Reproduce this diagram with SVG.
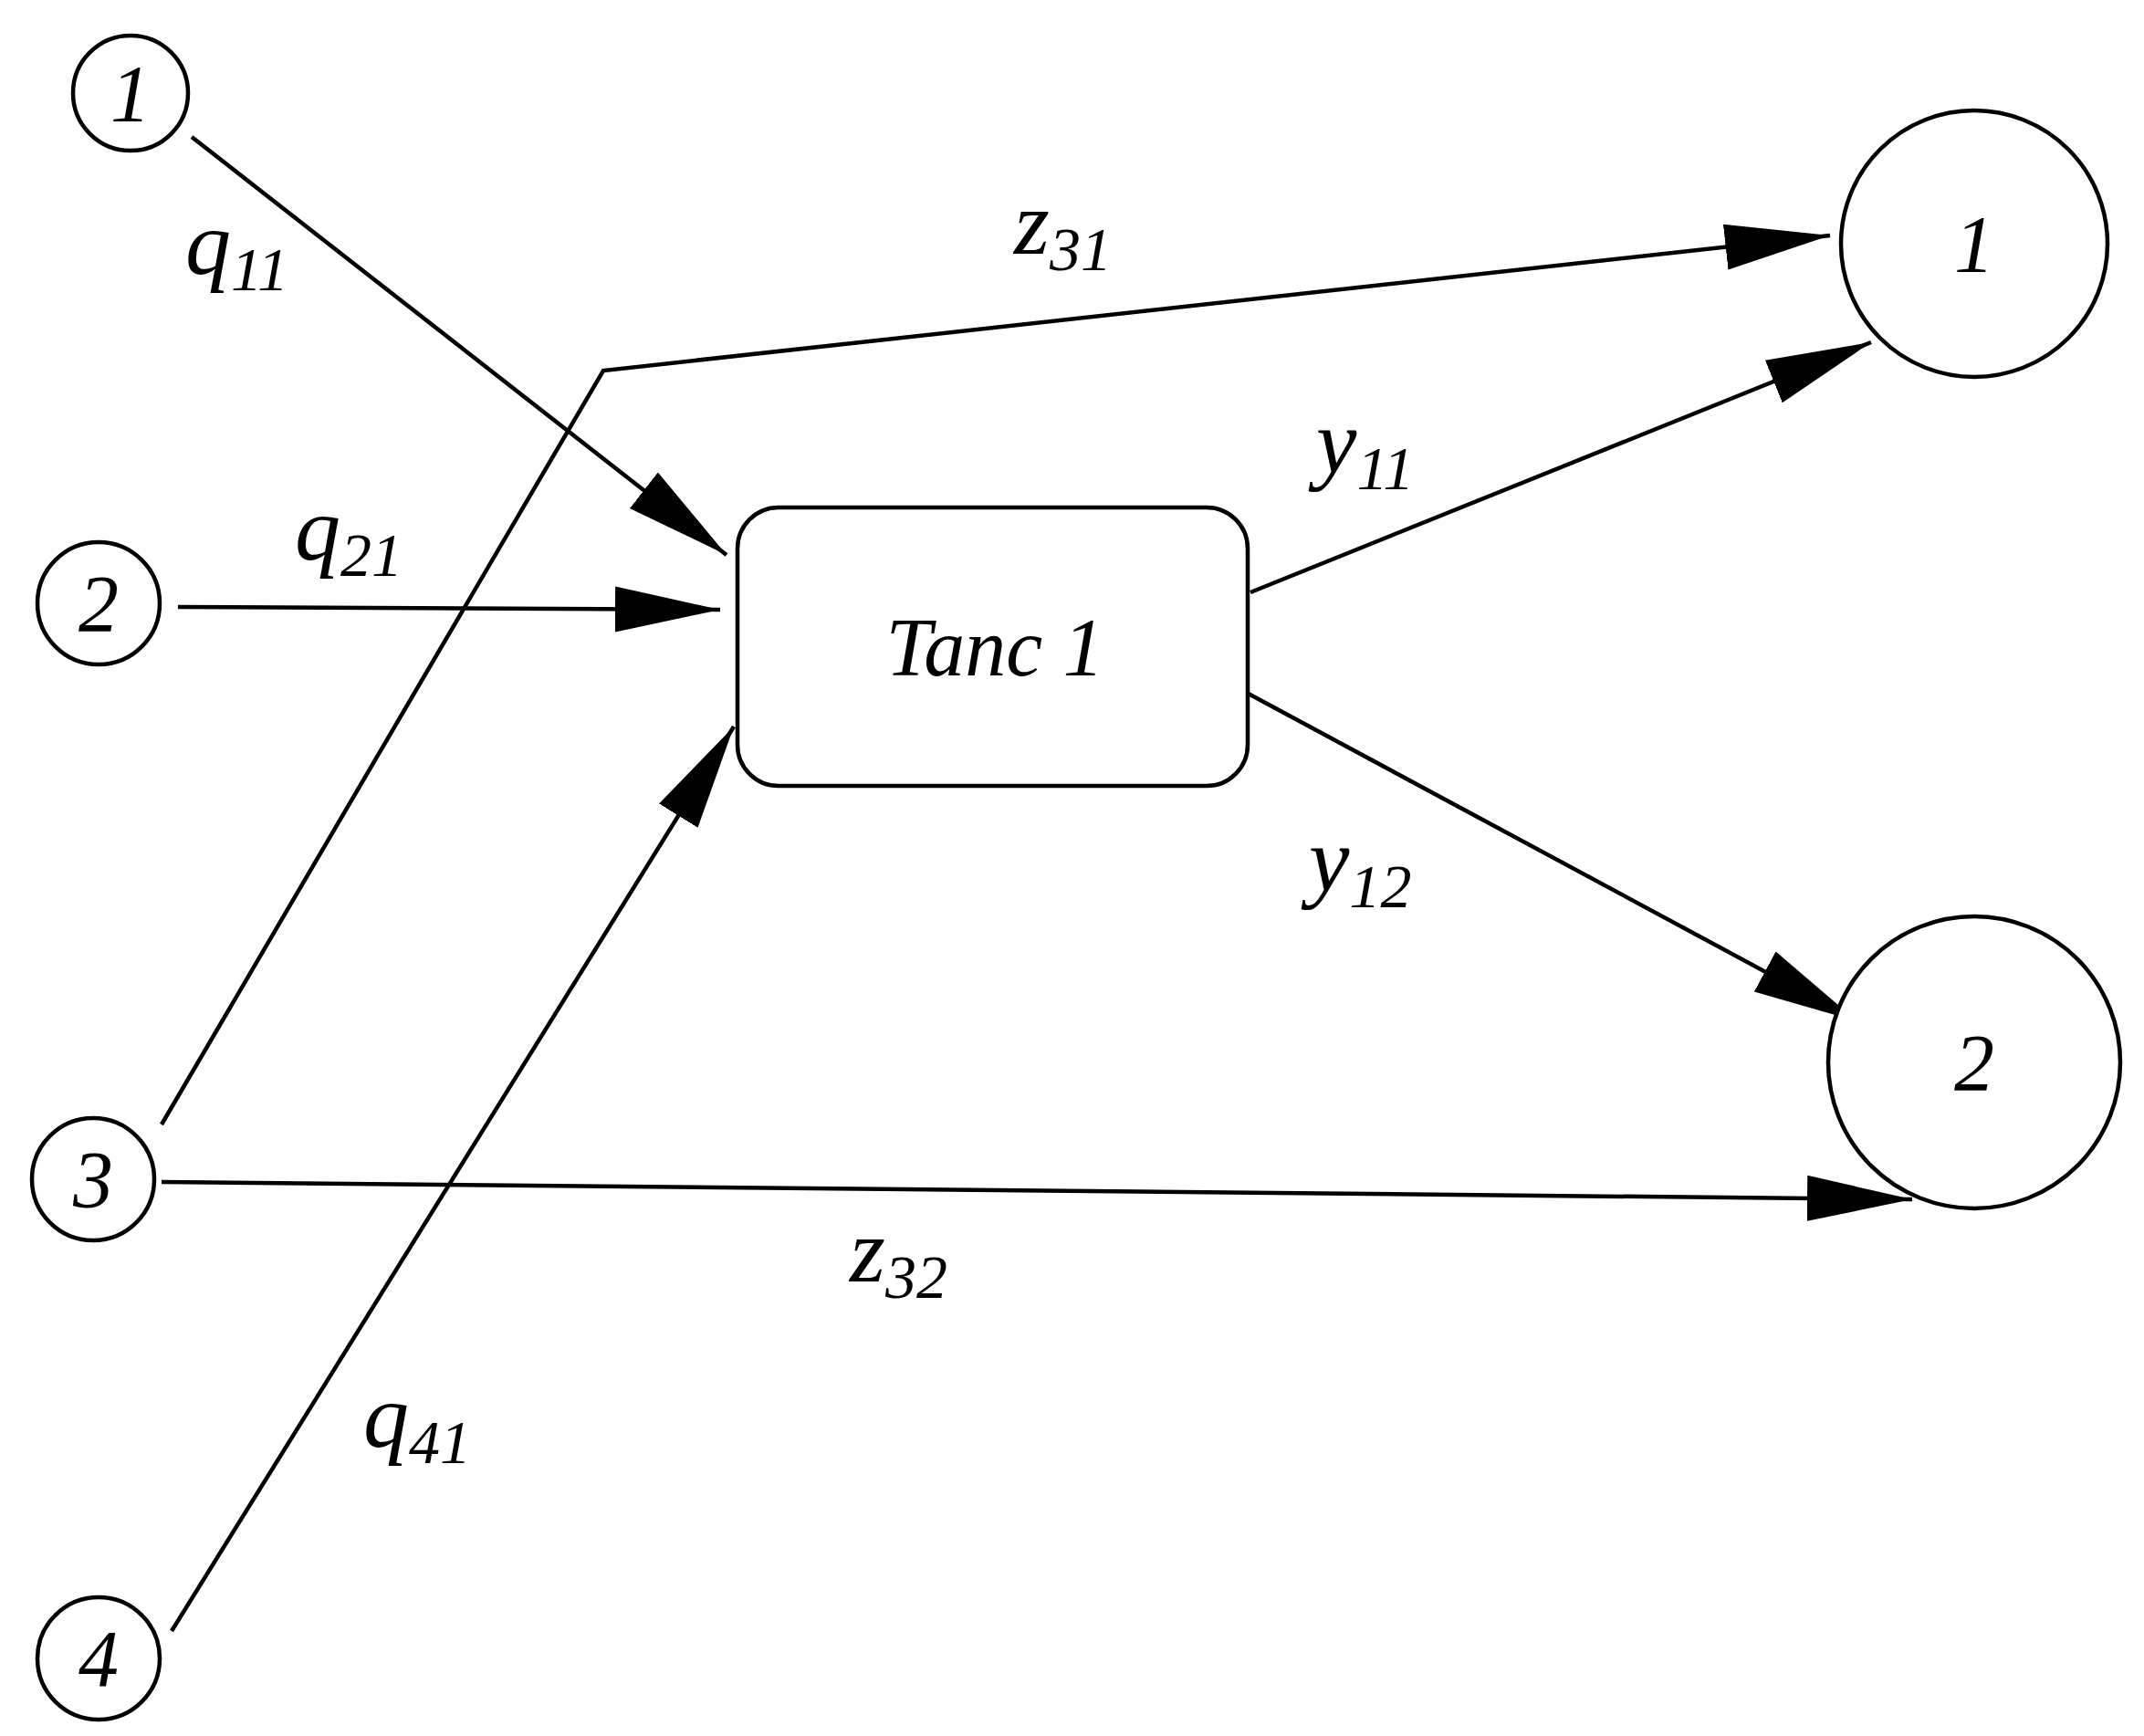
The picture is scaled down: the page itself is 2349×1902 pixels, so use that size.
<svg xmlns="http://www.w3.org/2000/svg" width="2349" height="1902" viewBox="0 0 2349 1902">
<style>
.n{fill:#fff;stroke:#000;stroke-width:4.5}
.e{fill:none;stroke:#000;stroke-width:4.5}
.t{font-family:"Liberation Serif",serif;font-style:italic;fill:#000}
.s{font-size:68px}
</style>
<defs>
<marker id="a" markerUnits="userSpaceOnUse" markerWidth="130" markerHeight="60" refX="115" refY="30" orient="auto" viewBox="0 0 130 60">
<path d="M0,5 L115,30 L0,55 z" fill="#000"/>
</marker>
</defs>
<rect width="2349" height="1902" fill="#fff"/>
<g id="connectors">
<line class="e" x1="210" y1="150" x2="796" y2="608" marker-end="url(#a)"/>
<line class="e" x1="195" y1="665" x2="789" y2="668" marker-end="url(#a)"/>
<polyline class="e" points="177,1232 661,406 2005,258" marker-end="url(#a)"/>
<line class="e" x1="1370" y1="649" x2="2050" y2="375" marker-end="url(#a)"/>
<line class="e" x1="1364" y1="758" x2="2035" y2="1119" marker-end="url(#a)"/>
<line class="e" x1="177" y1="1295" x2="2095" y2="1314" marker-end="url(#a)"/>
<line class="e" x1="188" y1="1787" x2="804" y2="796" marker-end="url(#a)"/>
</g>
<g id="labels" class="t" font-size="100">
<text x="203" y="300">q<tspan class="s" dy="18">11</tspan></text>
<text x="323" y="613">q<tspan class="s" dy="18">21</tspan></text>
<text x="1111" y="278">z<tspan class="s" dy="18">31</tspan></text>
<text x="1442" y="518">y<tspan class="s" dy="18">11</tspan></text>
<text x="1434" y="976">y<tspan class="s" dy="18">12</tspan></text>
<text x="931" y="1404">z<tspan class="s" dy="18">32</tspan></text>
<text x="398" y="1585">q<tspan class="s" dy="18">41</tspan></text>
</g>
<g id="src1"><circle class="n" cx="143" cy="102" r="63"/><text class="t" x="143" y="132" font-size="88" text-anchor="middle">1</text></g>
<g id="src2"><circle class="n" cx="108" cy="661" r="67"/><text class="t" x="108" y="691" font-size="88" text-anchor="middle">2</text></g>
<g id="src3"><circle class="n" cx="102" cy="1292" r="67"/><text class="t" x="102" y="1322" font-size="88" text-anchor="middle">3</text></g>
<g id="src4"><circle class="n" cx="108" cy="1817" r="67"/><text class="t" x="108" y="1847" font-size="88" text-anchor="middle">4</text></g>
<g id="dst1"><circle class="n" cx="2163" cy="267" r="146"/><text class="t" x="2163" y="297" font-size="88" text-anchor="middle">1</text></g>
<g id="dst2"><circle class="n" cx="2163" cy="1164" r="160"/><text class="t" x="2163" y="1194" font-size="88" text-anchor="middle">2</text></g>
<g id="tank"><rect class="n" x="808" y="556" width="559" height="305" rx="45"/><text class="t" x="1090" y="740" font-size="90" text-anchor="middle">Tanc 1</text></g>
</svg>
